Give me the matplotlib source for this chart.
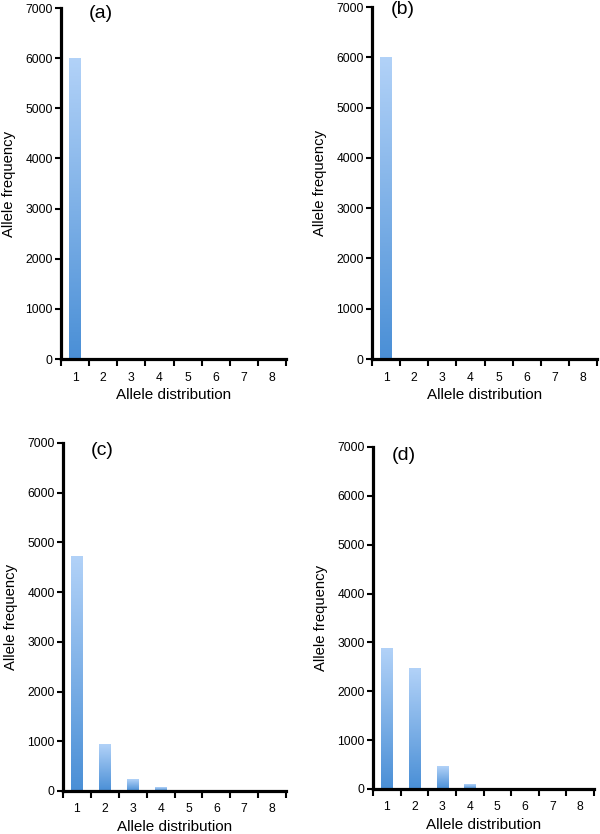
import numpy as np
import matplotlib
matplotlib.use("Agg")
import matplotlib.pyplot as plt
from matplotlib.colors import LinearSegmentedColormap

plt.rcParams['font.family'] = ['Liberation Sans', 'DejaVu Sans']

categories = [1, 2, 3, 4, 5, 6, 7, 8]
panel_labels = ["(a)", "(b)", "(c)", "(d)"]
values_a = [6000, 12, 8, 5, 0, 0, 0, 0]
values_b = [6000, 10, 6, 4, 0, 0, 0, 0]
values_c = [4720, 935, 235, 75, 15, 8, 5, 3]
values_d = [2870, 2460, 470, 100, 15, 8, 5, 3]
yticks = [0, 1000, 2000, 3000, 4000, 5000, 6000, 7000]

all_values = [values_a, values_b, values_c, values_d]
positions = [
    [0.1017, 0.5695, 0.375, 0.4209],
    [0.620, 0.5695, 0.375, 0.4220],
    [0.105, 0.0516, 0.3717, 0.4173],
    [0.6217, 0.0540, 0.3683, 0.4101],
]
label_pos = [(1.9, 6900), (1.6, 6960), (1.9, 6850), (1.6, 6820)]

cmap = LinearSegmentedColormap.from_list("bar", ["#4a8fd6", "#b2d2f8"])
grad = np.linspace(0, 1, 256).reshape(-1, 1)

fig = plt.figure(figsize=(6, 8.34), dpi=100)
bw = 0.4
for i, vals in enumerate(all_values):
    ax = fig.add_axes(positions[i])
    bars = ax.bar(categories, vals, width=bw, color='none', edgecolor='none')
    for b in bars:
        h = b.get_height()
        if h <= 0:
            continue
        x0 = b.get_x()
        ax.imshow(grad, extent=[x0, x0 + b.get_width(), 0, h], origin='lower',
                  aspect='auto', cmap=cmap, zorder=2, interpolation='bilinear')
    ax.set_xlim(0.5, 8.5)
    ax.set_ylim(0, 7000)
    for s in ['top', 'right']:
        ax.spines[s].set_visible(False)
    for s in ['left', 'bottom']:
        ax.spines[s].set_linewidth(2.3)
    ax.set_yticks(yticks)
    ax.tick_params(axis='y', direction='out', length=4.5, width=1.5, pad=1.5, labelsize=8.7)
    ax.set_xticks(np.arange(0.5, 9.0, 1.0))
    ax.set_xticklabels([])
    ax.tick_params(axis='x', which='major', direction='out', length=5, width=1.5)
    ax.set_xticks(categories, minor=True)
    ax.set_xticklabels([str(c) for c in categories], minor=True)
    ax.tick_params(axis='x', which='minor', length=0, pad=9, labelsize=8.7)
    ax.set_xlabel("Allele distribution", fontsize=11, labelpad=3)
    ax.set_ylabel("Allele frequency", fontsize=10.7, labelpad=7)
    ax.text(label_pos[i][0], label_pos[i][1], panel_labels[i], fontsize=14,
            ha='center', va='center')

fig.savefig("out.png", dpi=100)
